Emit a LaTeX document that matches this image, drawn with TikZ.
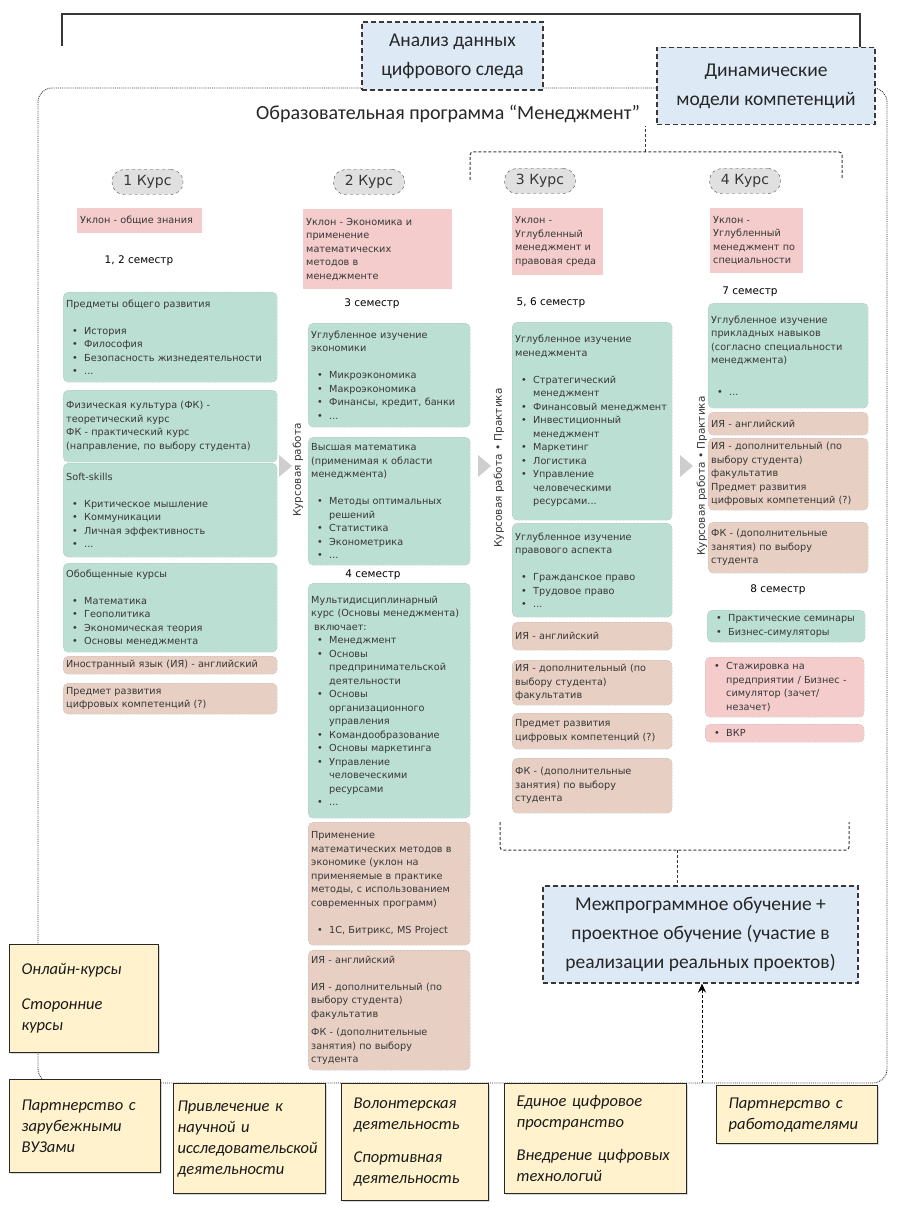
\documentclass[tikz,border=0pt]{standalone}
\usepackage{fontspec}
\setmainfont{DejaVu Sans}
\newfontfamily\calibri{Carlito}
\usepackage{xcolor}
\usetikzlibrary{positioning,arrows.meta,shadows}
\definecolor{boxgreen}{RGB}{188,223,211}
\definecolor{boxtan}{RGB}{231,207,195}
\definecolor{boxpink}{RGB}{244,204,204}
\definecolor{paleblue}{RGB}{221,234,246}
\definecolor{paleyellow}{RGB}{255,242,204}
\definecolor{pillgray}{RGB}{224,224,224}
\definecolor{inkgray}{RGB}{55,55,55}
\definecolor{markgray}{RGB}{206,206,206}
\newcommand{\boxfont}{\fontsize{9.7}{13.5}\selectfont}
\newcommand{\bitem}{\hspace*{6pt}\makebox[12pt][l]{\textbullet}}
\newcommand{\bcont}{\hspace*{18pt}}

\begin{document}
\begin{tikzpicture}[x=1pt, y=-1pt,
        gbox/.style={rectangle, rounded corners=5pt, draw=gray!75, densely dotted, fill=boxgreen,
                     anchor=north west, align=left, font=\boxfont, text=inkgray,
                     inner xsep=3pt, inner ysep=1.5pt},
        tbox/.style={gbox, fill=boxtan},
        pbox/.style={gbox, fill=boxpink},
        bias/.style={rectangle, fill=boxpink, anchor=north west, align=left, font=\boxfont,
                     text=inkgray, inner xsep=3pt, inner ysep=1.5pt},
        course/.style={rectangle, rounded corners=12pt, draw=gray!55!black, dashed, fill=pillgray,
                       minimum width=71pt, minimum height=25pt, inner sep=0pt,
                       font=\fontsize{14}{16}\selectfont, text=inkgray},
        sem/.style={font=\fontsize{10.5}{12}\selectfont, text=black},
        worklabel/.style={rotate=90, font=\fontsize{10.5}{12}\selectfont, text=inkgray},
        idea/.style={rectangle, draw=inkgray, dash pattern=on 5pt off 3pt, line width=1.1pt,
                     fill=paleblue, align=center, inner sep=0pt, text=black!85,
                     font=\calibri\fontsize{19.5}{29}\selectfont},
        ext/.style={rectangle, draw=black!85, line width=1.3pt, fill=paleyellow, anchor=north west,
                    align=left, inner xsep=12pt, inner ysep=2pt, text=black!90,
                    font=\calibri\itshape\fontsize{16.5}{21}\selectfont,
                    drop shadow={shadow xshift=1.5pt, shadow yshift=-1.5pt, opacity=0.3}},
        frame/.style={draw=inkgray, densely dotted, line width=0.9pt, rounded corners=14pt},
        brace/.style={draw=inkgray, densely dashed, line width=1pt, rounded corners=3pt},
        bracket/.style={draw=inkgray, line width=1.2pt},
        arrow/.style={draw=black, densely dashed, line width=1pt, -{Stealth[length=9pt, width=8pt]}},
        nextmark/.style={fill=markgray}
    ]
        \useasboundingbox (0,0) rectangle (898,1230);

        % рамка программы и верхняя скобка
        \draw[frame] (38,88) rectangle (887,1083);
        \node[idea, minimum width=218pt, minimum height=77pt] (dyn) at (766,86) {Динамические\\модели компетенций};
        \coordinate (brL) at (62,46);
        \coordinate (brR) at (860,14);
        \draw[bracket] (brL) |- (brR) -- (brR |- dyn.north);
        \node[idea, minimum width=181pt, minimum height=68pt] (trace) at (452.5,56) {Анализ данных\\цифрового следа};
        \node[font=\calibri\fontsize{20}{24}\selectfont, text=black!85] (title) at (448,114) {Образовательная программа “Менеджмент”};

        % курсы
        \node[course] (year1) at (147.5,182) {1 Курс};
        \node[course] (year2) at (369,182) {2 Курс};
        \node[course] (year3) at (540,181) {3 Курс};
        \node[course] (year4) at (745,181) {4 Курс};

        % 1 курс
        \node[bias, text width=119pt, minimum height=25pt] (bias1) at (77,208) {Уклон - общие знания};
        \node[sem] (sem12) at (139,261) {1, 2 семестр};
        \node[gbox, text width=208pt, minimum height=90pt] (general) at (63,292) {Предметы общего развития\\[13.5pt]
            \bitem История\\\bitem Философия\\\bitem Безопасность жизнедеятельности\\\bitem ...};
        \node[gbox, text width=208pt, minimum height=72pt] (sport1) at (63,390) {Физическая культура (ФК) -\\теоретический курс\\
            ФК - практический курс\\(направление, по выбору студента)};
        \node[gbox, text width=208pt, minimum height=94pt] (soft) at (63,463) {Soft-skills\\[13.5pt]
            \bitem Критическое мышление\\\bitem Коммуникации\\\bitem Личная эффективность\\\bitem ...};
        \node[gbox, text width=208pt, minimum height=89pt] (basics) at (63,563) {Обобщенные курсы\\[13.5pt]
            \bitem Математика\\\bitem Геополитика\\\bitem Экономическая теория\\\bitem Основы менеджмента};
        \node[tbox, text width=208pt, minimum height=18pt] (lang1) at (63,656) {Иностранный язык (ИЯ) - английский};
        \node[tbox, text width=208pt, minimum height=31pt] (digit1) at (63,683) {Предмет развития\\цифровых компетенций (?)};

        % 2 курс
        \node[bias, text width=143pt, minimum height=80pt] (bias2) at (303,209) {Уклон - Экономика и\\применение\\математических\\методов в\\менеджменте};
        \node[sem] (sem3) at (372,304) {3 семестр};
        \node[gbox, text width=156pt, minimum height=104pt] (econ) at (308,323) {Углубленное изучение\\экономики\\[13.5pt]
            \bitem Микроэкономика\\\bitem Макроэкономика\\\bitem Финансы, кредит, банки\\\bitem ...};
        \node[gbox, text width=156pt, minimum height=128pt] (math) at (308,437) {Высшая математика\\(применимая к области\\менеджмента)\\[13.5pt]
            \bitem Методы оптимальных\\\bcont решений\\\bitem Статистика\\\bitem Эконометрика\\\bitem ...};
        \node[sem] (sem4) at (373,575) {4 семестр};
        \node[gbox, text width=156pt, minimum height=235pt] (multi) at (308,583) {Мультидисциплинарный\\курс (Основы менеджмента)\\\hspace*{3pt}включает:\\
            \bitem Менеджмент\\\bitem Основы\\\bcont предпринимательской\\\bcont деятельности\\
            \bitem Основы\\\bcont организационного\\\bcont управления\\\bitem Командообразование\\
            \bitem Основы маркетинга\\\bitem Управление\\\bcont человеческими\\\bcont ресурсами\\\bitem ...};
        \node[tbox, text width=156pt, minimum height=123pt] (applied) at (308,822) {Применение\\математических методов в\\экономике (уклон на\\
            применяемые в практике\\методы, с использованием\\современных программ)\\[13.5pt]\bitem 1С, Битрикс, MS Project};
        \node[tbox, text width=156pt, minimum height=120pt] (other2) at (308,950) {ИЯ - английский\\[13.5pt]
            ИЯ - дополнительный (по\\выбору студента)\\факультатив\\[5pt]ФК - (дополнительные\\занятия) по выбору\\студента};

        % 3 курс
        \node[bias, text width=85pt, minimum height=67pt] (bias3) at (512,208) {Уклон -\\Углубленный\\менеджмент и\\правовая среда};
        \node[sem] (sem56) at (551,303) {5, 6 семестр};
        \node[gbox, text width=154pt, minimum height=198pt] (mgmt) at (512,322) {Углубленное изучение\\менеджмента\\[13.5pt]
            \bitem Стратегический\\\bcont менеджмент\\\bitem Финансовый менеджмент\\\bitem Инвестиционный\\\bcont менеджмент\\
            \bitem Маркетинг\\\bitem Логистика\\\bitem Управление\\\bcont человеческими\\\bcont ресурсами...};
        \node[gbox, text width=154pt, minimum height=94pt] (law) at (512,523) {Углубленное изучение\\правового аспекта\\[13.5pt]
            \bitem Гражданское право\\\bitem Трудовое право\\\bitem ...};
        \node[tbox, text width=154pt, minimum height=28pt] (lang3) at (512,622) {ИЯ - английский};
        \node[tbox, text width=154pt, minimum height=45pt] (extra3) at (512,660) {ИЯ - дополнительный (по\\выбору студента)\\факультатив};
        \node[tbox, text width=154pt, minimum height=36pt] (digit3) at (512,713) {Предмет развития\\цифровых компетенций (?)};
        \node[tbox, text width=154pt, minimum height=55pt] (sport3) at (512,758) {ФК - (дополнительные\\занятия) по выбору\\студента};

        % 4 курс
        \node[bias, text width=87pt, minimum height=65pt] (bias4) at (710,208) {Уклон -\\Углубленный\\менеджмент по\\специальности};
        \node[sem] (sem7) at (750,292) {7 семестр};
        \node[gbox, text width=154pt, minimum height=105pt] (skills) at (708,303) {Углубленное изучение\\прикладных навыков\\
            (согласно специальности\\менеджмента)\\[18.5pt]\bitem ...};
        \node[tbox, text width=154pt, minimum height=23pt] (lang4) at (708,412) {ИЯ - английский};
        \node[tbox, text width=154pt, minimum height=72pt] (extra4) at (708,438) {ИЯ - дополнительный (по\\выбору студента)\\
            факультатив\\Предмет развития\\цифровых компетенций (?)};
        \node[tbox, text width=154pt, minimum height=51pt] (sport4) at (708,522) {ФК - (дополнительные\\занятия) по выбору\\студента};
        \node[sem] (sem8) at (778,590) {8 семестр};
        \node[gbox, text width=152pt, minimum height=32pt] (seminar) at (707,610) {\bitem Практические семинары\\\bitem Бизнес-симуляторы};
        \node[pbox, text width=153pt, minimum height=60pt] (intern) at (705,657) {\bitem Стажировка на\\\bcont предприятии / Бизнес -\\
            \bcont симулятор (зачет/\\\bcont незачет)};
        \node[pbox, text width=153pt, minimum height=18pt] (thesis) at (705,724) {\bitem ВКР};

        % переходы между курсами
        \foreach \tx in {279,478,680}
            \fill[nextmark] (\tx,455) -- ++(13,11) -- ++(-13,11) -- cycle;
        \node[worklabel] (work2) at (298,470) {Курсовая работа};
        \node[worklabel] (work3) at (499,468) {Курсовая работа • Практика};
        \node[worklabel] (work4) at (702,476) {Курсовая работа • Практика};

        % скобки
        \coordinate (upL) at (470,180);
        \coordinate (upMid) at (645,152);
        \coordinate (upR) at (842,180);
        \draw[brace] (upL) |- (upMid) -| (upR);
        \draw[brace] (upMid) -- (upMid |- title.south);
        \node[idea, minimum width=315pt, minimum height=97pt] (mezh) at (700.5,934.5) {Межпрограммное обучение +\\
            проектное обучение (участие в\\реализации реальных проектов)};
        \coordinate (lowL) at (500,822);
        \coordinate (lowMid) at (677,850);
        \coordinate (lowR) at (849,822);
        \draw[brace] (lowL) |- (lowMid) -| (lowR);
        \draw[brace] (lowMid) -- (lowMid |- mezh.north);

        % внешние блоки
        \node[ext, text width=125pt, minimum height=108pt] (online) at (9,944) {Онлайн-курсы\\[14pt]Сторонние\\курсы};
        \node[ext, text width=127pt, minimum height=93pt] (foreign) at (9,1079) {Партнерство с\\зарубежными\\ВУЗами};
        \node[ext, inner xsep=4pt, text width=144pt, minimum height=110pt] (science) at (173,1083) {Привлечение к\\научной и\\исследовательской\\деятельности};
        \node[ext, text width=123pt, minimum height=117pt] (volunteer) at (341,1083) {Волонтерская\\деятельность\\[12pt]Спортивная\\деятельность};
        \node[ext, text width=158pt, minimum height=110pt] (digital) at (504,1083) {Единое цифровое\\пространство\\[12pt]Внедрение цифровых\\технологий};
        \node[ext, text width=137pt, minimum height=58pt] (employers) at (716,1085) {Партнерство с\\работодателями};
        \coordinate (arrS) at (702,1083);
        \draw[arrow] (arrS) -- (arrS |- mezh.south);
    \end{tikzpicture}
\end{document}
